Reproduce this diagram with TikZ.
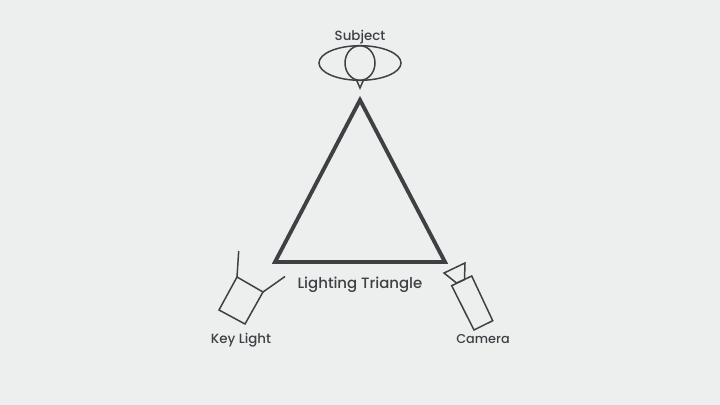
\documentclass[tikz,border=0pt]{standalone}
\usepackage{fontspec}
\setmainfont{Poppins Medium}
\definecolor{ink}{HTML}{3F4044}
\definecolor{paper}{HTML}{EDEEEE}
\tikzset{
  thin line/.style={draw=ink, line width=0.85pt, line join=miter},
  thick line/.style={draw=ink, line width=2.2pt, line join=miter},
  label text/.style={text=ink, inner sep=0pt, font=\fontsize{7.6pt}{9pt}\selectfont},
}

\begin{document}
\begin{tikzpicture}[x=0.02cm, y=-0.02cm]
\def\xa{274}
\def\xb{360}
\def\xc{446}

\def\ya{100}
\def\yb{262}

\useasboundingbox[fill=paper] (0, 0) rectangle (720, 405);

\coordinate(top) at (\xb, \ya);
\coordinate(left) at (\xa + 1, \yb);
\coordinate(right) at (\xc - 1, \yb);

\draw[thick line] (top) -- (left) -- (right) -- cycle;

% subject
\coordinate(head) at (\xb, 63);
\coordinate(tip) at (\xb, 88);
\draw[thin line] (head) ellipse (41 and 17.3);
\draw[thin line] (head) ellipse (15 and 17.3);
\draw[thin line] (356.5, 80) -- (tip) -- (363.5, 80);

% key light
\coordinate(ka) at (237, 277);
\coordinate(kb) at (263, 292);
\coordinate(kc) at (245, 324);
\coordinate(kd) at (219, 310);
\coordinate(ke) at (238.7, 251);
\coordinate(kf) at (285, 276.5);
\draw[thin line] (ka) -- (kb) -- (kc) -- (kd) -- cycle;
\draw[thin line] (ka) -- (ke);
\draw[thin line] (kb) -- (kf);

% camera
\coordinate(ca) at (451.7, 285.7);
\coordinate(cb) at (471.7, 276);
\coordinate(cc) at (492.7, 320.7);
\coordinate(cd) at (474, 330);
\coordinate(ce) at (444, 273);
\coordinate(cf) at (465, 263);
\coordinate(cg) at (464.5, 279.5);
\coordinate(ch) at (456.5, 283);
\draw[thin line] (ca) -- (cb) -- (cc) -- (cd) -- cycle;
\draw[thin line] (ch) -- (ce) -- (cf) -- (cg) -- cycle;

\node[label text] (subject) at (360, 37) {Subject};
\node[label text, font=\fontsize{8.5pt}{10pt}\selectfont] (triangle) at (360, 285) {Lighting Triangle};
\node[label text] (keylight) at (241, 340) {Key Light};
\node[label text, font=\fontsize{7.3pt}{9pt}\selectfont] (camera) at (483, 339) {Camera};

\end{tikzpicture}
\end{document}
